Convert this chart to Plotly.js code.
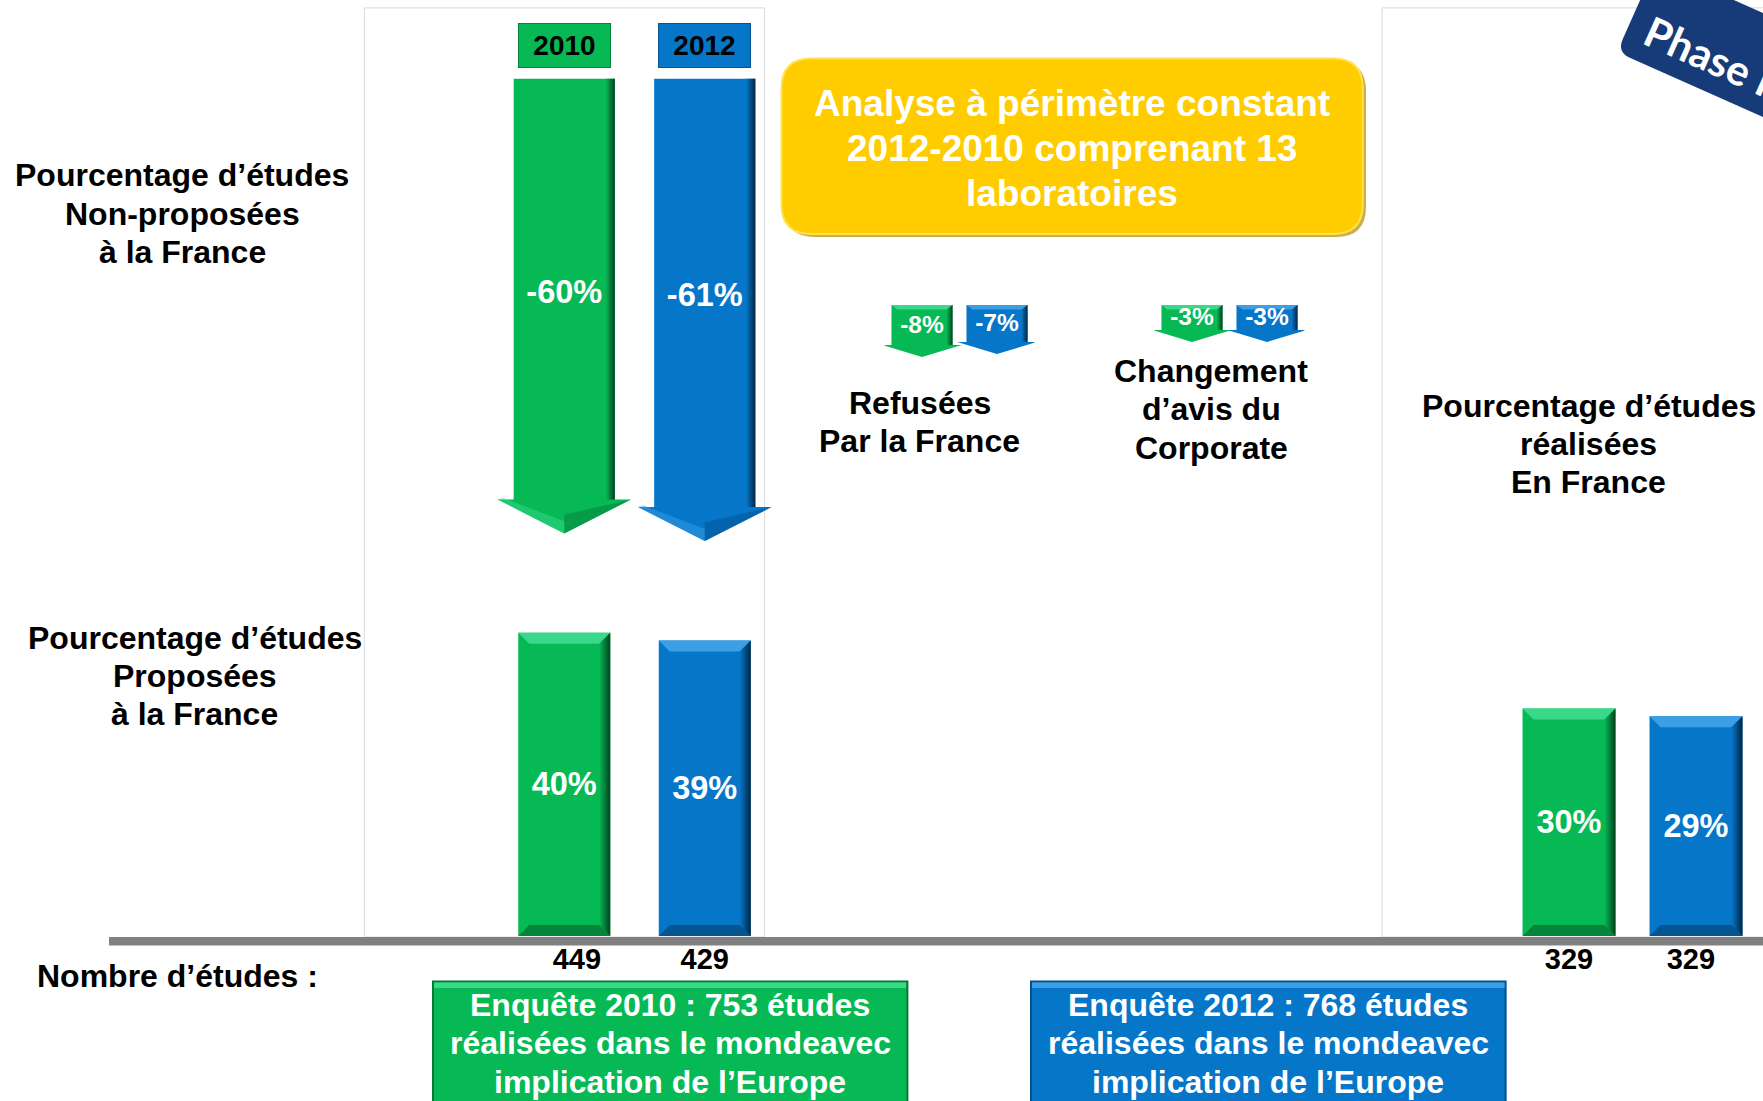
<!DOCTYPE html>
<html>
<head>
<meta charset="utf-8">
<script src="https://cdn.plot.ly/plotly-3.0.1.min.js"></script>
<style>
html,body{margin:0;padding:0;background:#fff;}
#chart{width:1763px;height:1101px;}
</style>
</head>
<body>
<div id="chart"></div>
<script>
// ---------------- DATA ----------------
const categories = ['2010', '2012'];
const proposedPct = [40, 39];          // Pourcentage d'études proposées à la France
const notProposedPct = [-60, -61];     // Pourcentage d'études non-proposées
const refusedPct = [-8, -7];           // Refusées par la France
const corporatePct = [-3, -3];         // Changement d'avis du Corporate
const realizedPct = [30, 29];          // Pourcentage d'études réalisées en France
const proposedCounts = [449, 429];
const realizedCounts = [329, 329];
const surveyLines = [
  ['Enquête 2010 : 753 études', 'réalisées dans le mondeavec', 'implication de l’Europe'],
  ['Enquête 2012 : 768 études', 'réalisées dans le mondeavec', 'implication de l’Europe']
];

// ---------------- STYLE / LAYOUT ----------------
const W = 1763, H = 1101;
const FONT = 'Liberation Sans, Arial, sans-serif';
const GREEN = '#06B955', BLUE = '#0676C9';
const LIGHT = ['#3AD98A', '#3C9FE6'];
const DARK = ['#02401D', '#012542'];
const BOTTOM = ['#05843C', '#045592'];
const COLORS = [GREEN, BLUE];

const PX_PCT = 7.58;         // pixels per percentage point
const BASE_PX = 936;         // baseline of bars
const ARROW_TOP_PX = 78.7;   // top of big arrows
const SMALL_ZERO_PX = 321, SMALL_PX = 3, SMALL_STUB = 16 / 3, SMALL_HEAD = 4;
const COUNT_Y = -3.35;

const slots = categories.map((c, i) => i);
const traces = [];

// canvas dummy
traces.push({x: [0], y: [0], xaxis: 'x', yaxis: 'y', mode: 'markers',
  marker: {opacity: 0}, hoverinfo: 'skip', showlegend: false});

function poly(xs, ys, xa, ya, color, extra) {
  const t = {x: xs.concat([xs[0]]), y: ys.concat([ys[0]]), xaxis: xa, yaxis: ya,
    mode: 'lines', fill: 'toself', fillcolor: color, line: {width: 0},
    hoverinfo: 'skip', showlegend: false};
  return Object.assign(t, extra || {});
}

function barSet(values, xa, ya, width, pxX, labels, labelShift) {
  traces.push({
    type: 'bar', x: slots, y: values, xaxis: xa, yaxis: ya, width: width,
    marker: {color: COLORS, line: {width: 0}},
    text: values.map(v => v + '%'), textposition: 'inside', insidetextanchor: 'middle',
    textangle: 0, textfont: {color: '#fff', size: 32.5, family: FONT, weight: 'bold'},
    hoverinfo: 'skip', showlegend: false, cliponaxis: false
  });
  const dx = 11 / pxX, dy = 11 / PX_PCT, hw = width / 2;
  values.forEach((v, i) => {
    const c = slots[i];
    traces.push(poly([c - hw, c + hw, c + hw - dx, c - hw + dx], [v, v, v - dy, v - dy], xa, ya, LIGHT[i]));
    traces.push(poly([c - hw, c + hw, c + hw - dx, c - hw + dx], [0, 0, dy, dy], xa, ya, BOTTOM[i]));
    traces.push(poly([c + hw - dx, c + hw, c + hw, c + hw - dx], [v - dy, v, 0, dy], xa, ya, COLORS[i],
      {fillgradient: {type: 'horizontal', colorscale: [[0, COLORS[i]], [1, DARK[i]]]}}));
  });
  traces.push({x: slots.map((s, i) => s + labelShift[i]), y: slots.map(() => COUNT_Y), xaxis: xa, yaxis: ya, mode: 'text',
    text: labels.map(String), textfont: {size: 29, color: '#000', family: FONT, weight: 'bold'},
    hoverinfo: 'skip', showlegend: false, cliponaxis: false});
}

barSet(proposedPct, 'x2', 'y2', 0.655, 140.5, proposedCounts, [0.09, 0]);
barSet(realizedPct, 'x3', 'y2', 0.732, 127, realizedCounts, [0, -0.04]);

// big arrows (non-proposées)
function arrows(values, xa, ya, sw, hw, hh, top, pxX, labelY, fontSize) {
  values.forEach((v, i) => {
    const c = slots[i];
    const ys = [top, top, v + hh, v + hh, v, v + hh, v + hh];
    const xs = [c - sw, c + sw, c + sw, c + hw, c, c - hw, c - sw];
    traces.push(poly(xs, ys, xa, ya, COLORS[i]));
    const dx = 9 / pxX;
    traces.push(poly([c + sw - dx, c + sw, c + sw, c + sw - dx], [top, top, v + hh, v + hh], xa, ya, COLORS[i],
      {fillgradient: {type: 'horizontal', colorscale: [[0, COLORS[i]], [1, DARK[i]]]}}));
    traces.push(poly([c, c + hw, c], [v + hh * 0.55, v + hh, v], xa, ya, BOTTOM[i], {opacity: 0.55}));
    traces.push(poly([c - hw, c, c, c - hw + 0.04], [v + hh, v, v + 1.6, v + hh + 0.2], xa, ya, LIGHT[i], {opacity: 0.5}));
  });
  traces.push({x: slots, y: values.map(labelY), xaxis: xa, yaxis: ya, mode: 'text',
    text: values.map(v => v + '%'), textfont: {size: fontSize, color: '#fff', family: FONT, weight: 'bold'},
    hoverinfo: 'skip', showlegend: false, cliponaxis: false});
}
arrows(notProposedPct, 'x2', 'y3', 0.36, 0.475, 34 / PX_PCT, 0, 140.5, v => v * 0.475, 32.5);

// small arrows
function smallArrows(values, xa) {
  values.forEach((v, i) => {
    const c = slots[i], sw = 0.407, hw = 0.53, top = SMALL_STUB, tip = v - SMALL_HEAD;
    traces.push(poly([c - sw, c + sw, c + sw, c + hw, c, c - hw, c - sw],
      [top, top, v, v, tip, v, v], xa, 'y4', COLORS[i]));
    const dx = 6 / 75;
    traces.push(poly([c + sw - dx, c + sw, c + sw, c + sw - dx], [top, top, v, v], xa, 'y4', COLORS[i],
      {fillgradient: {type: 'horizontal', colorscale: [[0, COLORS[i]], [1, DARK[i]]]}}));
    traces.push(poly([c - sw, c + sw, c + sw - dx, c - sw + dx], [top, top, top - 1.5, top - 1.5], xa, 'y4', LIGHT[i]));
  });
  traces.push({x: slots, y: values.map(v => (SMALL_STUB + v) / 2 - 0.6), xaxis: xa, yaxis: 'y4', mode: 'text',
    text: values.map(v => v + '%'), textfont: {size: 24.5, color: '#fff', family: FONT, weight: 'bold'},
    hoverinfo: 'skip', showlegend: false, cliponaxis: false});
}
smallArrows(refusedPct, 'x4');
smallArrows(corporatePct, 'x5');

// ---------------- DECORATION ----------------
function roundRect(x0, y0, x1, y1, r) {
  return `M${x0 + r},${y0} L${x1 - r},${y0} Q${x1},${y0} ${x1},${y0 + r} L${x1},${y1 - r} Q${x1},${y1} ${x1 - r},${y1} ` +
         `L${x0 + r},${y1} Q${x0},${y1} ${x0},${y1 - r} L${x0},${y0 + r} Q${x0},${y0} ${x0 + r},${y0} Z`;
}
// Phase badge (rotated)
const ANG = 24;
const th = ANG * Math.PI / 180, u = [Math.cos(th), Math.sin(th)], n = [-Math.sin(th), Math.cos(th)];
const BL = [1617, 52], bh = 95, bl = 340, br = 14;
const TL = [BL[0] - n[0] * bh, BL[1] - n[1] * bh];
const BR = [BL[0] + u[0] * bl, BL[1] + u[1] * bl];
const TR = [TL[0] + u[0] * bl, TL[1] + u[1] * bl];
const p1 = [BL[0] - n[0] * br, BL[1] - n[1] * br], p2 = [BL[0] + u[0] * br, BL[1] + u[1] * br];
const badgePath = `M${TL[0]},${TL[1]} L${p1[0]},${p1[1]} Q${BL[0]},${BL[1]} ${p2[0]},${p2[1]} L${BR[0]},${BR[1]} L${TR[0]},${TR[1]} Z`;

const shapes = [
  {type: 'rect', xref: 'x', yref: 'y', x0: 364.3, x1: 764.6, y0: 7.9, y1: 937, line: {color: '#D9D9D9', width: 1}, layer: 'below'},
  {type: 'rect', xref: 'x', yref: 'y', x0: 1382, x1: 1780, y0: 7.9, y1: 937, line: {color: '#D9D9D9', width: 1}, layer: 'below'},
  {type: 'rect', xref: 'x', yref: 'y', x0: 109, x1: 1770, y0: 937, y1: 945.5, fillcolor: '#808080', line: {width: 0}, layer: 'below'},
  {type: 'path', xref: 'x', yref: 'y', path: roundRect(785, 61, 1366, 237, 30), fillcolor: '#B88C00', opacity: 0.7, line: {width: 0}, layer: 'below'},
  {type: 'path', xref: 'x', yref: 'y', path: roundRect(781.5, 58.5, 1362.8, 233.9, 30), fillcolor: '#FFCC00', line: {color: '#FFE34A', width: 2}, layer: 'below'},
  {type: 'rect', xref: 'x', yref: 'y', x0: 433, x1: 907.4, y0: 981.6, y1: 1115, fillcolor: GREEN, line: {color: '#057A37', width: 2}, layer: 'below'},
  {type: 'rect', xref: 'x', yref: 'y', x0: 434, x1: 906, y0: 982.6, y1: 988, fillcolor: LIGHT[0], line: {width: 0}, layer: 'below'},
  {type: 'rect', xref: 'x', yref: 'y', x0: 1031, x1: 1505.6, y0: 981.6, y1: 1115, fillcolor: BLUE, line: {color: '#04508C', width: 2}, layer: 'below'},
  {type: 'rect', xref: 'x', yref: 'y', x0: 1032, x1: 1504.6, y0: 982.6, y1: 988, fillcolor: LIGHT[1], line: {width: 0}, layer: 'below'},
  {type: 'path', xref: 'x', yref: 'y', path: badgePath, fillcolor: '#163B78', line: {width: 0}, layer: 'below'}
];

const annotations = [];
function lines(x, yMid, arr, size, color, spacing, extra) {
  arr.forEach((t, i) => {
    annotations.push(Object.assign({
      x: x, y: yMid + (i - (arr.length - 1) / 2) * spacing, xref: 'x', yref: 'y', text: t, showarrow: false,
      xanchor: 'center', yanchor: 'middle', font: {family: FONT, size: size, color: color, weight: 'bold'}
    }, extra || {}));
  });
}
lines(182, 213.6, ['Pourcentage d’études', 'Non-proposées', 'à la France'], 32, '#000', 38.2);
lines(194.5, 675.8, ['Pourcentage d’études', 'Proposées', 'à la France'], 32, '#000', 38.2);
lines(919.7, 421.6, ['Refusées', 'Par la France'], 32, '#000', 38.2);
lines(1211, 409.3, ['Changement', 'd’avis du', 'Corporate'], 32, '#000', 38.2);
lines(1588.8, 444, ['Pourcentage d’études', 'réalisées', 'En France'], 32, '#000', 38.2);
lines(35, 976, ['Nombre d’études :'], 32, '#000', 0, {xanchor: 'left'});
lines(1071.6, 148.4, ['Analyse à périmètre constant', '2012-2010 comprenant 13', 'laboratoires'], 37, '#fff', 45);
lines(670, 1043.4, surveyLines[0], 32, '#fff', 38.3);
lines(1268.3, 1043.4, surveyLines[1], 32, '#fff', 38.3);
annotations.push({x: 1714, y: 58, xref: 'x', yref: 'y', text: 'Phase II', showarrow: false, textangle: ANG,
  xanchor: 'center', yanchor: 'middle', font: {family: 'Lato, Open Sans, sans-serif', size: 42, color: '#fff', weight: 'bold'}});
categories.forEach((c, i) => {
  annotations.push({x: slots[i], y: 45, xref: 'x2', yref: 'y', text: c, showarrow: false,
    xanchor: 'center', yanchor: 'middle', width: 91, height: 43, borderpad: 0,
    bgcolor: COLORS[i], bordercolor: BOTTOM[i], borderwidth: 1,
    font: {family: FONT, size: 28, color: '#000', weight: 'bold'}});
});

const hidden = {visible: false, fixedrange: true};
const layout = {
  width: W, height: H, margin: {l: 0, r: 0, t: 0, b: 0},
  paper_bgcolor: '#fff', plot_bgcolor: 'rgba(0,0,0,0)',
  showlegend: false, hovermode: false, barmode: 'overlay',
  xaxis: Object.assign({domain: [0, 1], range: [0, W]}, hidden),
  yaxis: Object.assign({domain: [0, 1], range: [H, 0]}, hidden),
  xaxis2: Object.assign({domain: [494 / W, 775 / W], range: [-0.5, 1.5], anchor: 'y2'}, hidden),
  yaxis2: Object.assign({domain: [0, 1], range: [-(H - BASE_PX) / PX_PCT, BASE_PX / PX_PCT], anchor: 'x2'}, hidden),
  yaxis3: Object.assign({domain: [0, 1], range: [-(H - ARROW_TOP_PX) / PX_PCT, ARROW_TOP_PX / PX_PCT], anchor: 'x2'}, hidden),
  xaxis3: Object.assign({domain: [1505.5 / W, 1759.5 / W], range: [-0.5, 1.5], anchor: 'y2'}, hidden),
  yaxis4: Object.assign({domain: [0, 1], range: [-(H - SMALL_ZERO_PX) / SMALL_PX, SMALL_ZERO_PX / SMALL_PX], anchor: 'x4'}, hidden),
  xaxis4: Object.assign({domain: [884.5 / W, 1034.5 / W], range: [-0.5, 1.5], anchor: 'y4'}, hidden),
  xaxis5: Object.assign({domain: [1154.5 / W, 1304.5 / W], range: [-0.5, 1.5], anchor: 'y4'}, hidden),
  shapes: shapes, annotations: annotations
};
Plotly.newPlot('chart', traces, layout, {staticPlot: true, displayModeBar: false});
</script>
</body>
</html>
